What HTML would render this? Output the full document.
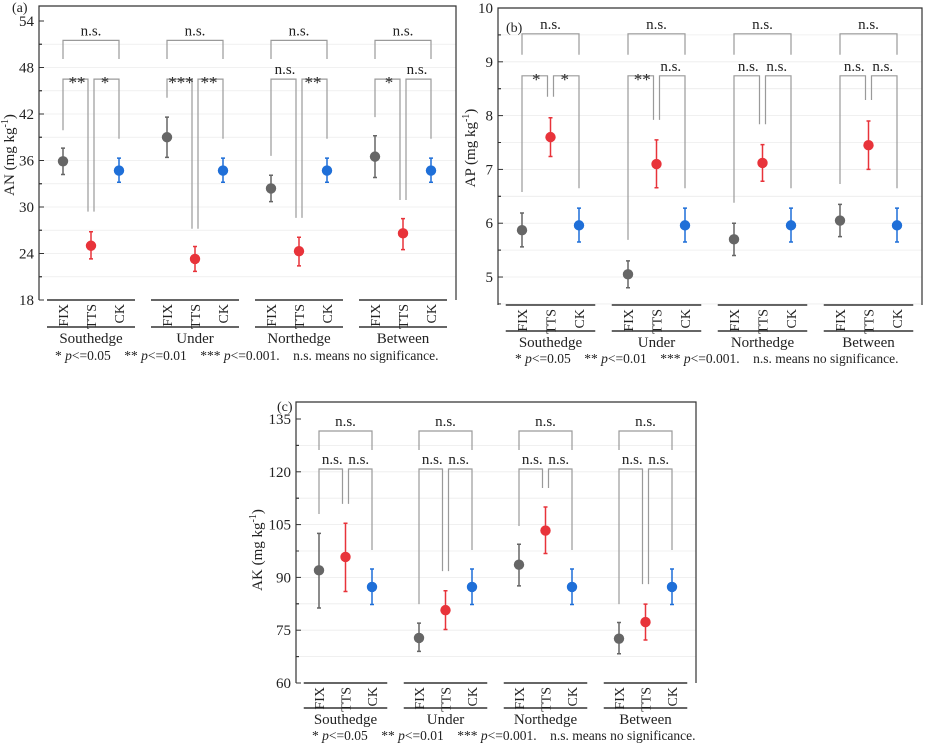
<!DOCTYPE html>
<html><head><meta charset="utf-8"><style>
body{margin:0;background:#fff}
svg, svg text{font-family:"Liberation Serif","DejaVu Serif","Times New Roman",serif}
</style></head><body>
<svg id="chart" width="927" height="743" viewBox="0 0 927 743" font-family="Liberation Serif, DejaVu Serif, serif"></svg>
<script>
const groups = ["Southedge","Under","Northedge","Between"];
const treatments = ["FIX","TTS","CK"];
const colors = ["#666666","#e8333a","#1f6fd8"];

// Panel (a) AN
const anTicks = [18,24,30,36,42,48,54];
const anMean = [[35.9,25.0,34.7],[39.0,23.3,34.7],[32.4,24.3,34.7],[36.5,26.6,34.7]];
const anLo   = [[34.2,23.3,33.2],[36.4,21.7,33.2],[30.7,22.4,33.2],[33.8,24.5,33.2]];
const anHi   = [[37.6,26.8,36.3],[41.6,24.9,36.3],[34.1,26.1,36.3],[39.2,28.5,36.3]];
const anLegs = [[39.9,29.4,38.8],[44.1,27.2,38.8],[36.6,28.6,38.8],[41.6,30.9,38.8]];
const anLabels = [["**","*"],["***","**"],["n.s.","**"],["*","n.s."]];
const anTopLabels = ["n.s.","n.s.","n.s.","n.s."];

// Panel (b) AP
const apTicks = [5,6,7,8,9,10];
const apMean = [[5.87,7.60,5.96],[5.05,7.10,5.96],[5.70,7.12,5.96],[6.05,7.45,5.96]];
const apLo   = [[5.56,7.24,5.65],[4.80,6.66,5.65],[5.40,6.78,5.65],[5.75,7.00,5.65]];
const apHi   = [[6.19,7.96,6.28],[5.30,7.55,6.28],[6.00,7.46,6.28],[6.35,7.90,6.28]];
const apLegs = [[6.58,8.35,6.65],[5.69,7.92,6.65],[6.38,7.84,6.65],[6.73,8.29,6.65]];
const apLabels = [["*","*"],["**","n.s."],["n.s.","n.s."],["n.s.","n.s."]];
const apTopLabels = ["n.s.","n.s.","n.s.","n.s."];

// Panel (c) AK
const akTicks = [60,75,90,105,120,135];
const akMean = [[92.0,95.8,87.3],[72.8,80.7,87.3],[93.6,103.3,87.3],[72.6,77.3,87.3]];
const akLo   = [[81.3,86.0,82.3],[69.0,75.2,82.3],[87.6,96.8,82.3],[68.3,72.2,82.3]];
const akHi   = [[102.5,105.4,92.4],[77.0,86.2,92.4],[99.4,110.0,92.4],[77.2,82.4,92.4]];
const akLegs = [[108.0,110.9,97.8],[82.4,91.8,97.8],[104.6,115.4,97.8],[82.4,88.1,97.8]];
const akLabels = [["n.s.","n.s."],["n.s.","n.s."],["n.s.","n.s."],["n.s.","n.s."]];
const akTopLabels = ["n.s.","n.s.","n.s.","n.s."];

const NS="http://www.w3.org/2000/svg";
const svg=document.getElementById('chart');
function mk(tag,attrs,parent){const e=document.createElementNS(NS,tag);for(const k in attrs)e.setAttribute(k,attrs[k]);(parent||svg).appendChild(e);return e;}

function panel(c){
  const g=mk('g',{});
  
  
  const ymax=c.ticks[c.ticks.length-1];
  const tickStep=c.ticks[1]-c.ticks[0];
  const amin=c.amin;
  const yS=v=>c.y0+(v-amin)/(ymax-amin)*(c.y1-c.y0);
  const xS=(gi,ti)=>c.fx+gi*c.gsp+ti*c.tsp;
  for(let v=c.ticks[0]-tickStep/2; v<ymax; v+=tickStep/2){
    if(v<=amin) continue;
    const gl=mk('line',{x1:c.left,x2:c.right,y1:yS(v),y2:yS(v),stroke:'#ececec','stroke-width':0.8},g);
    
    
  }
  const fr=mk('path',{d:`M${c.left},${c.y0} V${c.top} H${c.right} V${c.y0}`,fill:'none',stroke:'#333','stroke-width':1.2},g);
  
  
  c.ticks.forEach(t=>{
    mk('line',{x1:c.left,x2:c.left+5,y1:yS(t),y2:yS(t),stroke:'#333'},g);
    if(t+tickStep/2<ymax) mk('line',{x1:c.left,x2:c.left+3,y1:yS(t+tickStep/2),y2:yS(t+tickStep/2),stroke:'#333'},g);
    if(t-tickStep/2>amin) mk('line',{x1:c.left,x2:c.left+3,y1:yS(t-tickStep/2),y2:yS(t-tickStep/2),stroke:'#333'},g);
    const tl=mk('text',{x:c.left-5,y:yS(t)+5,'text-anchor':'end','font-size':15,fill:'#222'},g);
    tl.textContent=t;
    
    
  });
  const yt=mk('text',{transform:`translate(${c.ytx},${c.yty}) rotate(-90)`,'text-anchor':'middle','font-size':15,fill:'#222'},g);
  yt.innerHTML=`${c.ylab} (mg kg<tspan dy="-6" font-size="10">-1</tspan><tspan dy="6">)</tspan>`;
  
  
  const pl=mk('text',{x:c.plx,y:c.ply,'font-size':14,fill:'#222'},g);
  pl.textContent=c.plab;
  
  
  const br='#9a9a9a';
  groups.forEach((gn,gi)=>{
    const x0=xS(gi,0),x1=xS(gi,1),x2=xS(gi,2);
    mk('line',{x1:x0-c.tsp/2-2,x2:x2+c.tsp/2+2,y1:c.y0,y2:c.y0,stroke:'#333','stroke-width':1.5},g);
    mk('line',{x1:x0-c.tsp/2-2,x2:x2+c.tsp/2+2,y1:c.ul2,y2:c.ul2,stroke:'#333','stroke-width':1.5},g);
    treatments.forEach((tn,ti)=>{
      const cl=mk('text',{transform:`translate(${xS(gi,ti)+5},${c.y0+4}) rotate(-90)`,'text-anchor':'end','font-size':14,fill:'#222'},g);
      cl.textContent=tn;
      
      
    });
    const gl=mk('text',{x:x1,y:c.ul2+16,'text-anchor':'middle','font-size':15,fill:'#222'},g);
    gl.textContent=gn;
    
    
    const tb=yS(c.topB), tl=yS(c.topLeg);
    const b1=mk('path',{d:`M${x0},${tl} V${tb} H${x2} V${tl}`,fill:'none',stroke:br,'stroke-width':1.2},g);
    
    
    const tt=mk('text',{x:x1,y:tb-5,'text-anchor':'middle','font-size':15,fill:'#222'},g);
    tt.textContent=c.topLabels[gi];
    
    
    const pb=yS(c.pairB), L=c.legs[gi];
    const b2=mk('path',{d:`M${x0},${yS(L[0])} V${pb} H${x1-3} V${yS(L[1])}`,fill:'none',stroke:br,'stroke-width':1.2},g);
    
    
    const b3=mk('path',{d:`M${x1+3},${yS(L[1])} V${pb} H${x2} V${yS(L[2])}`,fill:'none',stroke:br,'stroke-width':1.2},g);
    
    
    [[x0,x1],[x1,x2]].forEach((p,k)=>{
      const lab=c.labels[gi][k], star=lab.indexOf('*')>=0;
      const t=mk('text',{x:(p[0]+p[1])/2,y:star?pb+9:pb-5,'text-anchor':'middle','font-size':star?17:15,fill:'#222'},g);
      t.textContent=lab;
      
      
    });
    treatments.forEach((tn,ti)=>{
      const x=xS(gi,ti), col=colors[ti];
      const eb=mk('path',{d:`M${x},${yS(c.lo[gi][ti])} V${yS(c.hi[gi][ti])} M${x-2},${yS(c.lo[gi][ti])} H${x+2} M${x-2},${yS(c.hi[gi][ti])} H${x+2}`,stroke:col,'stroke-width':1.5,fill:'none'},g);
      
      
      const pt=mk('circle',{cx:x,cy:yS(c.mean[gi][ti]),r:5.2,fill:col},g);
      
      
    });
  });
  const fn=mk('text',{x:c.fnx,y:c.fny,'font-size':13.5,fill:'#222'},g);
  fn.innerHTML='* <tspan font-style="italic">p</tspan>&lt;=0.05 &#160;&#160;&#160;** <tspan font-style="italic">p</tspan>&lt;=0.01 &#160;&#160;&#160;*** <tspan font-style="italic">p</tspan>&lt;=0.001. &#160;&#160;&#160;n.s. means no significance.';
  
  
}

panel({name:'panel-a-an',ticks:anTicks,amin:18,mean:anMean,lo:anLo,hi:anHi,legs:anLegs,labels:anLabels,topLabels:anTopLabels,
  topB:51.5,topLeg:49.1,pairB:46.5,left:39,right:456,top:6,y0:300,y1:21,fx:63,tsp:28,gsp:104,ul2:327,
  ylab:'AN',ytx:14,yty:155,plab:'(a)',plx:12,ply:12,fnx:55,fny:360});
panel({name:'panel-b-ap',ticks:apTicks,amin:4.48,mean:apMean,lo:apLo,hi:apHi,legs:apLegs,labels:apLabels,topLabels:apTopLabels,
  topB:9.52,topLeg:9.13,pairB:8.74,left:498,right:922,top:8,y0:305,y1:8,fx:522,tsp:28.5,gsp:106,ul2:331,
  ylab:'AP',ytx:475,yty:148,plab:'(b)',plx:506,ply:32,fnx:515,fny:363});
panel({name:'panel-c-ak',ticks:akTicks,amin:60,mean:akMean,lo:akLo,hi:akHi,legs:akLegs,labels:akLabels,topLabels:akTopLabels,
  topB:131.6,topLeg:126.2,pairB:120.8,left:296,right:696,top:402,y0:683,y1:419,fx:319,tsp:26.5,gsp:100,ul2:708,
  ylab:'AK',ytx:262,yty:550,plab:'(c)',plx:277,ply:411,fnx:312,fny:740});
</script>
</body></html>
